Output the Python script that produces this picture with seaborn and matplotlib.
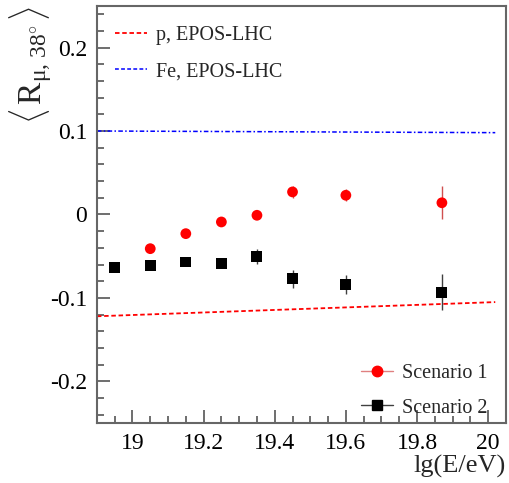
import numpy as np
import pandas as pd
import matplotlib.pyplot as plt
from matplotlib.lines import Line2D
from matplotlib.ticker import MultipleLocator
import seaborn as sns

# model expectations (EPOS-LHC)
model_lgE = [18.9, 20.02]
p_epos = [-0.122, -0.105]
fe_epos = [0.100, 0.098]

# scenario 1
s1_lgE = [19.05, 19.15, 19.25, 19.35, 19.45, 19.6, 19.87]
s1_val = [-0.041, -0.023, -0.009, -0.001, 0.027, 0.023, 0.014]
s1_err = [0.003, 0.003, 0.003, 0.004, 0.007, 0.007, 0.020]

# scenario 2
s2_lgE = [18.95, 19.05, 19.15, 19.25, 19.35, 19.45, 19.6, 19.87]
s2_val = [-0.063, -0.061, -0.057, -0.059, -0.050, -0.077, -0.084, -0.093]
s2_err = [0.004, 0.004, 0.004, 0.005, 0.009, 0.011, 0.011, 0.022]

sns.set_style('ticks')
plt.rcParams['font.family'] = ['Liberation Serif', 'DejaVu Serif']
plt.rcParams['mathtext.fontset'] = 'custom'
plt.rcParams['mathtext.rm'] = 'Liberation Serif'
plt.rcParams['mathtext.it'] = 'Liberation Serif:italic'

fig = plt.figure(figsize=(5.1, 4.83), dpi=100)
ax = fig.add_axes([0.190, 0.124, 0.802, 0.864])

df_model = pd.DataFrame({'lgE': model_lgE * 2,
                         'R': p_epos + fe_epos,
                         'model': ['p'] * 2 + ['Fe'] * 2})
sns.lineplot(data=df_model[df_model.model == 'p'], x='lgE', y='R', ax=ax,
             color='red', lw=1.3, legend=False)
ax.lines[-1].set_linestyle((0, (2.5, 1.5)))
sns.lineplot(data=df_model[df_model.model == 'Fe'], x='lgE', y='R', ax=ax,
             color='blue', lw=1.1, legend=False)
ax.lines[-1].set_linestyle((0, (3, 1.5, 1, 1.5)))

# data points with error bars
ax.errorbar(s1_lgE, s1_val, yerr=s1_err, fmt='none', ecolor='#d05050', lw=1)
ax.errorbar(s2_lgE, s2_val, yerr=s2_err, fmt='none', ecolor='#404040', lw=1)
sns.scatterplot(x=s1_lgE, y=s1_val, ax=ax, color='red', marker='o', s=60,
                edgecolor='none', zorder=5)
sns.scatterplot(x=s2_lgE, y=s2_val, ax=ax, color='black', marker='s', s=62,
                edgecolor='none', zorder=5)

ax.set_xlim(18.9, 20.05)
ax.set_ylim(-0.25, 0.25)
ax.xaxis.set_minor_locator(MultipleLocator(0.05))
ax.yaxis.set_minor_locator(MultipleLocator(0.02))
ax.set_xticks([19, 19.2, 19.4, 19.6, 19.8, 20])
ax.set_xticklabels(['19', '19.2', '19.4', '19.6', '19.8', '20'])
ax.set_yticks([-0.2, -0.1, 0, 0.1, 0.2])
ax.set_yticklabels(['-0.2', '-0.1', '0', '0.1', '0.2'])
ax.tick_params(which='both', direction='in', colors='#555555',
               labelcolor='black', labelsize=17, width=1.2)
ax.tick_params(which='major', length=9.5, pad=7)
ax.tick_params(which='minor', length=5)
for s in ax.spines.values():
    s.set_color('#666666')
    s.set_linewidth(1.5)

ax.set_xlabel('lg(E/eV)', fontsize=19, loc='right', labelpad=1)
ax.set_ylabel(r'$\langle\,\mathrm{R}_{\mathrm{\mu},\,38^{\circ}}\,\rangle$', fontsize=24,
              loc='top')
ax.yaxis.set_label_coords(-0.105, 1.0)

h1 = [Line2D([], [], color='red', ls=(0, (2.5, 1.5)), lw=1.3),
      Line2D([], [], color='blue', ls=(0, (2.5, 1.5)), lw=1.1)]
leg1 = ax.legend(h1, ['p, EPOS-LHC', 'Fe, EPOS-LHC'], loc='upper left',
                 bbox_to_anchor=(0.0, 0.995), frameon=False, fontsize=14.5,
                 handlelength=1.6, labelspacing=0.85, handletextpad=0.45)
ax.add_artist(leg1)
h2 = [Line2D([], [], color='#e08080', marker='o', ms=7.5, mfc='red', mec='red', lw=1),
      Line2D([], [], color='#404040', marker='s', ms=7.5, mfc='black', mec='black', lw=1)]
ax.legend(h2, ['Scenario 1', 'Scenario 2'], loc='lower right',
          bbox_to_anchor=(1.0, -0.03), frameon=False, fontsize=14.5,
          handlelength=1.6, labelspacing=0.75, handletextpad=0.45)

fig.savefig('out.png', dpi=100)
